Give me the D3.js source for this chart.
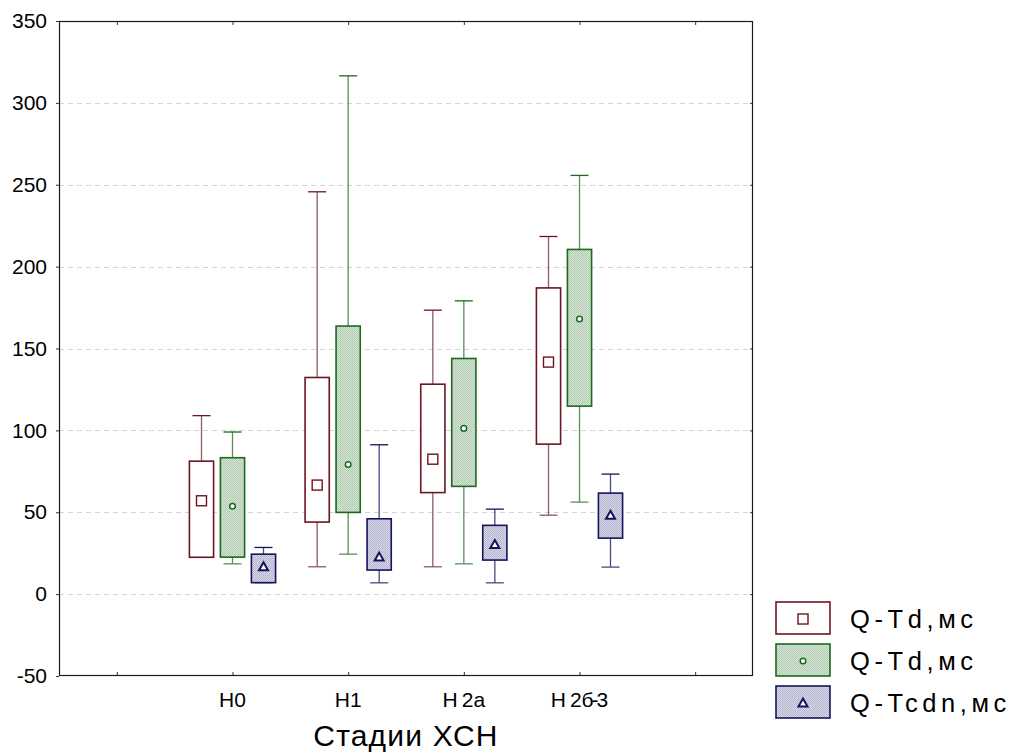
<!DOCTYPE html>
<html>
<head>
<meta charset="utf-8">
<script src="https://cdn.jsdelivr.net/npm/d3@7"></script>
<style>
  html, body { margin: 0; padding: 0; background: #fff; }
  svg { display: block; font-family: "Liberation Sans", Arial, sans-serif; }
</style>
</head>
<body>
<svg id="chart" width="1011" height="755"></svg>
<script>
// ---- data ----
const xSlots = ["", "H0", "H1", "H2a", "H2б-3", " "];
const categories = ["H0", "H1", "H2a", "H2б-3"];
const seriesNames = ["Q-Td,мс", "Q-Td,мс", "Q-Tcdn,мс"];
const seriesKeys = ["s0", "s1", "s2"];
const yTicks = [-50, 0, 50, 100, 150, 200, 250, 300, 350];

const mins  = [[22.5, 16.7, 16.7, 48.2], [18.5, 24.4, 18.5, 56.2], [7.0, 6.9, 6.9, 16.5]];
const q1s   = [[22.5, 44.0, 62.0, 91.6], [22.6, 49.9, 65.8, 114.8], [7.0, 14.7, 20.8, 34.2]];
const q3s   = [[81.2, 132.3, 128.2, 187.0], [83.3, 163.7, 143.9, 210.5], [24.4, 46.0, 42.0, 61.7]];
const maxs  = [[109.0, 245.7, 173.4, 218.4], [99.0, 316.5, 179.1, 255.7], [28.5, 91.2, 51.9, 73.3]];
const means = [[57.0, 66.6, 82.4, 141.7], [53.7, 79.2, 101.2, 168.0], [16.7, 22.6, 30.3, 48.2]];

// ---- styles ----
const stroke = ["#6e1420", "#1b6a1b", "#14145e"];
const whisk  = ["#8f5a60", "#5a8f5a", "#4a4a80"];
const fills  = ["#ffffff", "url(#hatchG)", "url(#hatchB)"];

const svg = d3.select("#chart");
const L = 59, R = 753, T = 21, B = 676;

const defs = svg.append("defs");
function hatch(id, bg, fg) {
  const p = defs.append("pattern").attr("id", id).attr("patternUnits", "userSpaceOnUse")
    .attr("width", 2).attr("height", 2);
  p.append("rect").attr("width", 2).attr("height", 2).attr("fill", bg);
  p.append("rect").attr("x", 0).attr("y", 0).attr("width", 1).attr("height", 1).attr("fill", fg);
  p.append("rect").attr("x", 1).attr("y", 1).attr("width", 1).attr("height", 1).attr("fill", fg);
}
hatch("hatchG", "#d6e6d6", "#b2cab2");
hatch("hatchB", "#d8d8ea", "#b4b4cc");

const x = d3.scalePoint().domain(xSlots).range([L, R]).padding(0.5);
const sub = d3.scaleBand().domain(seriesKeys).range([-46.5, 46.5]).paddingInner(0.22).paddingOuter(0.11);
const y = d3.scaleLinear().domain([-50, 350]).range([B, T]);

// grid
svg.append("g").selectAll("line").data(yTicks.filter(t => t > -50 && t < 350)).join("line")
  .attr("x1", L).attr("x2", R).attr("y1", d => Math.round(y(d)) + 0.5).attr("y2", d => Math.round(y(d)) + 0.5)
  .attr("stroke", "#d4d4d4").attr("stroke-dasharray", "5,4").attr("stroke-width", 1);

// axes
const yAxis = svg.append("g").attr("transform", `translate(${L},0)`)
  .call(d3.axisLeft(y).tickValues(yTicks).tickSize(3).tickPadding(9).tickFormat(d => String(d)));
yAxis.select(".domain").remove();
yAxis.selectAll("text").attr("font-size", 21).attr("fill", "#000").attr("font-family", "Liberation Sans, Arial, sans-serif");
yAxis.selectAll("line").attr("stroke", "#333");

const yAxisR = svg.append("g").attr("transform", `translate(${R},0)`)
  .call(d3.axisLeft(y).tickValues(yTicks.filter(t => t > -50 && t < 350)).tickSize(3).tickFormat(""));
yAxisR.select(".domain").remove();
yAxisR.selectAll("line").attr("stroke", "#333");

const xAxisB = svg.append("g").attr("transform", `translate(0,${B})`)
  .call(d3.axisTop(x).tickSize(4).tickFormat(""));
xAxisB.select(".domain").remove();
xAxisB.selectAll("line").attr("stroke", "#333");
const xAxisT = svg.append("g").attr("transform", `translate(0,${T})`)
  .call(d3.axisBottom(x).tickSize(4).tickFormat(""));
xAxisT.select(".domain").remove();
xAxisT.selectAll("line").attr("stroke", "#333");

// x labels
const xl = svg.append("g").attr("font-size", 21).attr("fill", "#000").attr("text-anchor", "middle");
categories.forEach(c => {
  const t = xl.append("text").attr("x", x(c)).attr("y", 707);
  if (c.length > 2) {
    t.append("tspan").text(c[0]);
    t.append("tspan").attr("dx", 4).text(c.slice(1, 3));
    if (c.length > 3) {
      t.append("tspan").attr("dx", -2).text(c.slice(3, 4));
      t.append("tspan").attr("dx", -2).text(c.slice(4));
    }
  } else {
    t.text(c);
  }
});

// frame
svg.append("rect").attr("x", L + 0.5).attr("y", T + 0.5).attr("width", R - L - 1).attr("height", B - T - 1)
  .attr("fill", "none").attr("stroke", "#1a1a1a").attr("stroke-width", 1.2);

// boxes
const bw = sub.bandwidth();
const capW = 18;
seriesKeys.forEach((k, si) => {
  const g = svg.append("g");
  categories.forEach((c, ci) => {
    const cx = x(c) + sub(k) + bw / 2;
    g.append("line").attr("x1", cx).attr("x2", cx).attr("y1", y(maxs[si][ci])).attr("y2", y(q3s[si][ci]))
      .attr("stroke", whisk[si]).attr("stroke-width", 1.3);
    g.append("line").attr("x1", cx).attr("x2", cx).attr("y1", y(q1s[si][ci])).attr("y2", y(mins[si][ci]))
      .attr("stroke", whisk[si]).attr("stroke-width", 1.3);
    g.append("line").attr("x1", cx - capW / 2).attr("x2", cx + capW / 2)
      .attr("y1", y(maxs[si][ci])).attr("y2", y(maxs[si][ci])).attr("stroke", stroke[si]).attr("stroke-width", 1.3);
    g.append("line").attr("x1", cx - capW / 2).attr("x2", cx + capW / 2)
      .attr("y1", y(mins[si][ci])).attr("y2", y(mins[si][ci])).attr("stroke", whisk[si]).attr("stroke-width", 1.3);
    g.append("rect").attr("x", x(c) + sub(k)).attr("width", bw)
      .attr("y", y(q3s[si][ci])).attr("height", y(q1s[si][ci]) - y(q3s[si][ci]))
      .attr("fill", fills[si]).attr("stroke", stroke[si]).attr("stroke-width", 1.6);
    drawMarker(g, si, cx, y(means[si][ci]));
  });
});

function drawMarker(g, si, cx, cy) {
  if (si === 0) {
    g.append("rect").attr("x", cx - 5).attr("y", cy - 5).attr("width", 10).attr("height", 10)
      .attr("fill", "#fff").attr("stroke", stroke[0]).attr("stroke-width", 1.4);
  } else if (si === 1) {
    g.append("circle").attr("cx", cx).attr("cy", cy).attr("r", 2.8)
      .attr("fill", "#fff").attr("stroke", stroke[1]).attr("stroke-width", 1.5);
  } else {
    g.append("path").attr("d", `M${cx},${cy - 4.5} L${cx + 4.5},${cy + 3.5} L${cx - 4.5},${cy + 3.5} Z`)
      .attr("fill", "#fff").attr("stroke", stroke[2]).attr("stroke-width", 2);
  }
}

// axis title
svg.append("text").attr("x", 406).attr("y", 746).attr("text-anchor", "middle")
  .attr("font-size", 30).attr("letter-spacing", 1.2).attr("fill", "#000").text("Стадии ХСН");

// legend
const lg = svg.append("g");
seriesNames.forEach((n, i) => {
  const ly = 602 + i * 42;
  lg.append("rect").attr("x", 776).attr("y", ly).attr("width", 54).attr("height", 32)
    .attr("fill", fills[i]).attr("stroke", stroke[i]).attr("stroke-width", 1.6);
  drawMarker(lg, i, 803, ly + 17);
  lg.append("text").attr("x", 850).attr("y", ly + 26).attr("font-size", 25.5).attr("letter-spacing", 4.6)
    .attr("fill", "#000").text(n);
});
</script>
</body>
</html>
